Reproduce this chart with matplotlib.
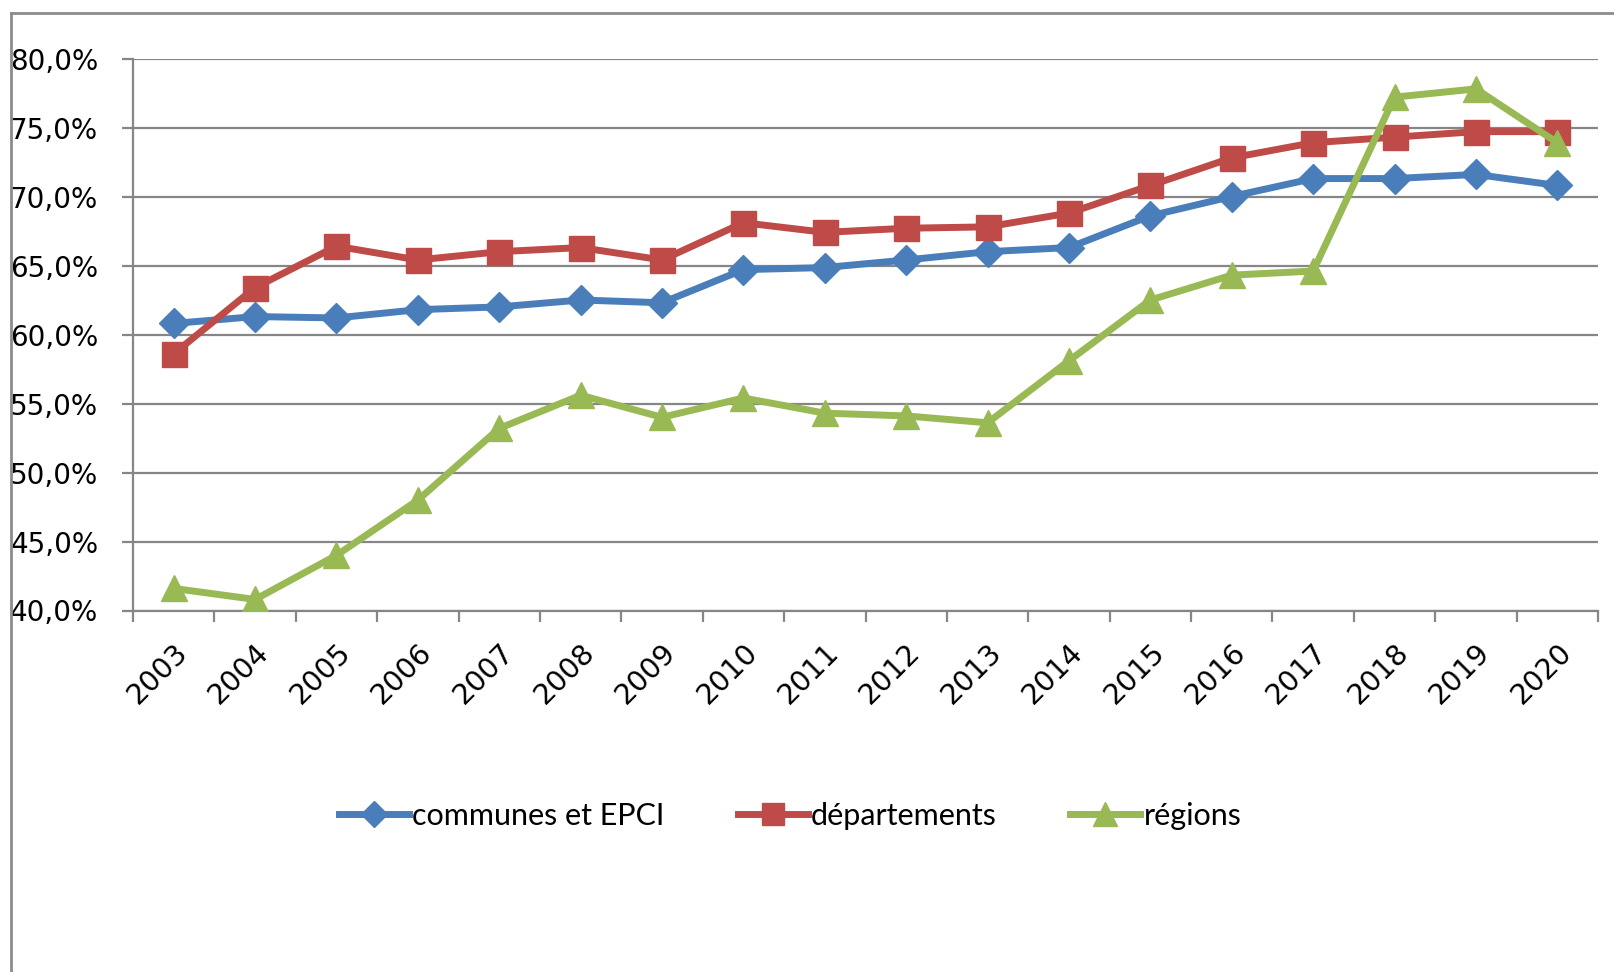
import matplotlib.pyplot as plt
import numpy as np
from matplotlib.lines import Line2D

years = [str(y) for y in range(2003, 2021)]
communes = [60.8, 61.3, 61.2, 61.8, 62.0, 62.5, 62.3, 64.7, 64.85, 65.4,
            66.0, 66.3, 68.6, 70.0, 71.3, 71.3, 71.6, 70.8]
departements = [58.6, 63.4, 66.4, 65.4, 66.0, 66.3, 65.4, 68.1, 67.4, 67.7,
                67.8, 68.8, 70.8, 72.8, 73.9, 74.3, 74.7, 74.7]
regions = [41.6, 40.8, 44.0, 48.0, 53.2, 55.6, 54.0, 55.4, 54.3, 54.1,
           53.6, 58.1, 62.5, 64.3, 64.6, 77.2, 77.8, 73.9]
series_names = ["communes et EPCI", "départements", "régions"]
y_ticks = [40, 45, 50, 55, 60, 65, 70, 75, 80]

BLUE = "#4A7EBB"
RED = "#BE4B48"
GREEN = "#98B954"
GRID = "#868686"


def main():
    fig = plt.figure(figsize=(16.14, 9.72), dpi=100)
    ax = fig.add_axes([133 / 1614, 1 - 610.5 / 972, (1598 - 133) / 1614, (610.5 - 58.5) / 972])

    x = np.arange(len(years)) + 0.5
    ax.plot(x, communes, color=BLUE, lw=5, marker="D", ms=15, label=series_names[0], zorder=3)
    ax.plot(x, departements, color=RED, lw=5, marker="s", ms=18, label=series_names[1], zorder=4)
    ax.plot(x, regions, color=GREEN, lw=5, marker="^", ms=19, label=series_names[2], zorder=5)

    ax.set_xlim(0, len(years))
    ax.set_ylim(40, 80)
    ax.set_yticks(y_ticks)
    ax.set_yticklabels([f"{v:.1f}%".replace(".", ",") for v in y_ticks])
    ax.yaxis.grid(True, color=GRID, lw=1.6)
    ax.set_axisbelow(True)

    ax.set_xticks(np.arange(len(years) + 1))
    ax.set_xticklabels([])
    ax.set_xticks(x, minor=True)
    ax.set_xticklabels(years, minor=True, rotation=45, ha="right", va="top",
                       rotation_mode="anchor", fontsize=20.5)
    ax.tick_params(axis="x", which="minor", length=0, pad=20)
    ax.tick_params(axis="x", which="major", length=8, width=1.6, color=GRID)
    ax.tick_params(axis="y", length=8, width=1.6, color=GRID, labelsize=20, pad=17)

    for s in ["top", "right"]:
        ax.spines[s].set_visible(False)
    for s in ["left", "bottom"]:
        ax.spines[s].set_color(GRID)
        ax.spines[s].set_linewidth(1.6)

    # outer chart frame (only left and top show in the crop)
    fig.add_artist(Line2D([11 / 1614, 11 / 1614], [0, 1 - 13 / 972], color="#8c8c8c", lw=2,
                          transform=fig.transFigure))
    fig.add_artist(Line2D([11 / 1614, 1], [1 - 13 / 972, 1 - 13 / 972], color="#8c8c8c", lw=2,
                          transform=fig.transFigure))

    fig.legend(loc="center", bbox_to_anchor=(790 / 1614, 1 - 816 / 972), ncol=3, frameon=False,
               prop={"family": "Lato", "size": 22}, handlelength=2.3, handletextpad=0.1,
               columnspacing=2.4, markerscale=0.9)

    fig.savefig("out.png", dpi=100)


if __name__ == "__main__":
    main()
